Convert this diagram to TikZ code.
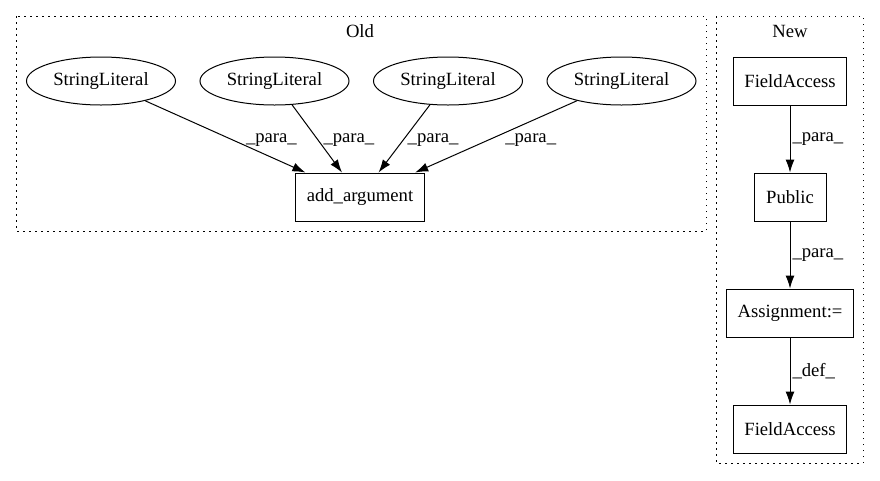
\documentclass[tikz,border=0pt]{standalone}
\usepackage{fontspec}
\setmainfont{Liberation Serif}
\usetikzlibrary{positioning,shapes.geometric,arrows.meta}

\begin{document}
\begin{tikzpicture}[x=1pt, y=-1pt, -{Latex[length=13pt,width=9pt]}, line width=1pt, node distance=116pt,
    font=\fontsize{18.67}{22}\selectfont,
    lit/.style = {draw, ellipse, minimum width=149pt, minimum height=48pt, inner sep=0pt},
    op/.style = {draw, rectangle, minimum width=72pt, minimum height=48pt, inner xsep=11pt},
    lbl/.style = {anchor=west, inner sep=0pt},
    cluster/.style = {-, line width=1pt, dash pattern=on 1.5pt off 4.5pt}]
    \useasboundingbox (0,0) rectangle (880,480);

    % Old
    \draw[cluster] (16,16) rectangle (706,231);
    \node (oldtitle) at (360,31) {Old};
    \node[lit] (s1) at (101,81) {StringLiteral};
    \node[lit, right of=s1, node distance=173.5pt] (s2) {StringLiteral};
    \node[lit, right of=s2, node distance=173.5pt] (s3) {StringLiteral};
    \node[lit, right of=s3, node distance=173.5pt] (s4) {StringLiteral};
    \node[op] (add) at (360,197) {add\_argument};

    \draw (s1) -- node[lbl, pos=0.545, xshift=13pt] {\_para\_} (add);
    \draw (s2) -- node[lbl, pos=0.52, xshift=5pt] {\_para\_} (add);
    \draw (s3) -- node[lbl, pos=0.52, xshift=4pt] {\_para\_} (add);
    \draw (s4) -- node[lbl, pos=0.545, xshift=16pt] {\_para\_} (add);

    % New
    \draw[cluster] (716,16) rectangle (863,463);
    \node (newtitle) at (790,31) {New};
    \node[op] (fa1) at (790,81) {FieldAccess};
    \node[op, below of=fa1] (pub) {Public};
    \node[op, below of=pub] (asg) {Assignment:=};
    \node[op, below of=asg] (fa2) {FieldAccess};

    \draw (fa1) -- node[lbl, xshift=2pt] {\_para\_} (pub);
    \draw (pub) -- node[lbl, xshift=2pt] {\_para\_} (asg);
    \draw (asg) -- node[lbl, xshift=2pt] {\_def\_} (fa2);
\end{tikzpicture}
\end{document}
